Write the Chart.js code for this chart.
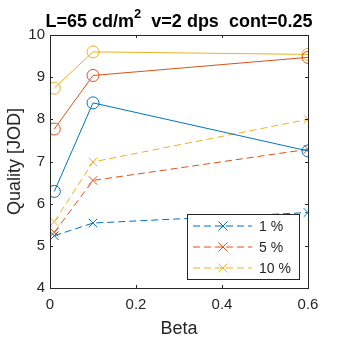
<!DOCTYPE html>
<html>
<head>
<meta charset="utf-8">
<script src="https://cdn.jsdelivr.net/npm/chart.js@4"></script>
<style>
  html, body { margin: 0; padding: 0; background: #fff; }
  #wrap { width: 340px; height: 340px; }
</style>
</head>
<body>
<div id="wrap"><canvas id="chart" width="340" height="340"></canvas></div>
<script>
const betas = [0.01, 0.1, 0.6];
const seriesLabels = ["1 %", "5 %", "10 %"];
const colors = ["#0072BD", "#D95319", "#EDB120"];

// solid lines, circle markers
const circle1 = [6.29, 8.39, 7.25];
const circle5 = [7.77, 9.04, 9.47];
const circle10 = [8.74, 9.60, 9.54];

// dashed lines, x markers (these are in the legend)
const cross1 = [5.24, 5.54, 5.79];
const cross5 = [5.32, 6.55, 7.29];
const cross10 = [5.57, 6.99, 8.00];

const xTicks = [0, 0.2, 0.4, 0.6];
const yTicks = [4, 5, 6, 7, 8, 9, 10];

const titleText = "L=65 cd/m";
const titleSup = "2";
const titleRest = "  v=2 dps  cont=0.25";

const toPoints = vals => vals.map((v, i) => ({ x: betas[i], y: v }));

const datasets = [];
[circle1, circle5, circle10].forEach((vals, i) => {
    datasets.push({
        label: "c" + i,
        data: toPoints(vals),
        borderColor: colors[i],
        backgroundColor: "transparent",
        borderWidth: 1,
        pointStyle: "circle",
        pointRadius: 6,
        pointBorderWidth: 1,
        showInLegend: false
    });
});
[cross1, cross5, cross10].forEach((vals, i) => {
    datasets.push({
        label: seriesLabels[i],
        data: toPoints(vals),
        borderColor: colors[i],
        backgroundColor: "transparent",
        borderWidth: 1,
        borderDash: [7, 4],
        pointStyle: "crossRot",
        pointRadius: 6,
        pointBorderWidth: 1,
        showInLegend: true
    });
});

const fontFam = "'Liberation Sans', Arial, sans-serif";

// MATLAB-like box, inward ticks, title and legend
const matlabAxes = {
    id: "matlabAxes",
    afterDatasetsDraw(chart) {
        const { ctx, chartArea: a, scales } = chart;
        ctx.save();
        ctx.strokeStyle = "#262626";
        ctx.lineWidth = 1;
        ctx.strokeRect(Math.round(a.left) + 0.5, Math.round(a.top) + 0.5,
            Math.round(a.right - a.left), Math.round(a.bottom - a.top));
        const t = 3;
        ctx.beginPath();
        xTicks.forEach(v => {
            const px = Math.round(scales.x.getPixelForValue(v)) + 0.5;
            ctx.moveTo(px, a.bottom); ctx.lineTo(px, a.bottom - t);
            ctx.moveTo(px, a.top); ctx.lineTo(px, a.top + t);
        });
        yTicks.forEach(v => {
            const py = Math.round(scales.y.getPixelForValue(v)) + 0.5;
            ctx.moveTo(a.left, py); ctx.lineTo(a.left + t, py);
            ctx.moveTo(a.right, py); ctx.lineTo(a.right - t, py);
        });
        ctx.stroke();

        // title
        ctx.fillStyle = "#000";
        ctx.textBaseline = "alphabetic";
        ctx.font = "bold 18px " + fontFam;
        const w1 = ctx.measureText(titleText).width;
        const w3 = ctx.measureText(titleRest).width;
        ctx.font = "bold 13px " + fontFam;
        const w2 = ctx.measureText(titleSup).width;
        const total = w1 + w2 + w3;
        let x = (a.left + a.right) / 2 - total / 2;
        const base = 27;
        ctx.textAlign = "left";
        ctx.font = "bold 18px " + fontFam;
        ctx.fillText(titleText, x, base);
        x += w1;
        ctx.font = "bold 13px " + fontFam;
        ctx.fillText(titleSup, x, base - 9);
        x += w2;
        ctx.font = "bold 18px " + fontFam;
        ctx.fillText(titleRest, x, base);

        // legend
        const items = chart.data.datasets.filter(d => d.showInLegend);
        const lx = 187, ly = 214, lw = 112, lh = 65;
        ctx.fillStyle = "#fff";
        ctx.fillRect(lx, ly, lw, lh);
        ctx.strokeStyle = "#262626";
        ctx.strokeRect(lx + 0.5, ly + 0.5, lw, lh);
        ctx.font = "14px " + fontFam;
        ctx.textBaseline = "middle";
        items.forEach((d, i) => {
            const yy = ly + 12 + i * 21;
            ctx.strokeStyle = d.borderColor;
            ctx.lineWidth = 1;
            ctx.setLineDash([7, 4]);
            ctx.beginPath();
            ctx.moveTo(lx + 6, yy); ctx.lineTo(lx + 65, yy);
            ctx.stroke();
            ctx.setLineDash([]);
            const cx = lx + 36, r = 4.5;
            ctx.beginPath();
            ctx.moveTo(cx - r, yy - r); ctx.lineTo(cx + r, yy + r);
            ctx.moveTo(cx - r, yy + r); ctx.lineTo(cx + r, yy - r);
            ctx.stroke();
            ctx.fillStyle = "#262626";
            ctx.fillText(d.label, lx + 72, yy + 1);
        });
        ctx.restore();
    }
};

new Chart(document.getElementById("chart"), {
    type: "line",
    data: { datasets: datasets },
    options: {
        responsive: false,
        animation: false,
        devicePixelRatio: 1,
        layout: { padding: { top: 35, right: 32, left: 0, bottom: 0 } },
        plugins: {
            legend: { display: false },
            title: { display: false },
            tooltip: { enabled: false }
        },
        scales: {
            x: {
                type: "linear",
                min: 0,
                max: 0.6,
                afterBuildTicks: s => { s.ticks = xTicks.map(v => ({ value: v })); },
                afterFit: s => { s.height = 52; },
                grid: { display: false, drawTicks: false },
                border: { display: false },
                ticks: {
                    color: "#262626",
                    font: { size: 15, family: fontFam },
                    padding: 8,
                    maxRotation: 0,
                    callback: v => String(v)
                },
                title: {
                    display: true,
                    text: "Beta",
                    color: "#262626",
                    font: { size: 18, family: fontFam },
                    padding: { top: 0, bottom: 0 }
                }
            },
            y: {
                type: "linear",
                min: 4,
                max: 10,
                afterBuildTicks: s => { s.ticks = yTicks.map(v => ({ value: v })); },
                afterFit: s => { s.width = 50; },
                grid: { display: false, drawTicks: false },
                border: { display: false },
                ticks: {
                    color: "#262626",
                    font: { size: 15, family: fontFam },
                    padding: 5,
                    callback: v => String(v)
                },
                title: {
                    display: true,
                    text: "Quality [JOD]",
                    color: "#262626",
                    font: { size: 18, family: fontFam },
                    padding: { top: 4, bottom: 0 }
                }
            }
        }
    },
    plugins: [matlabAxes]
});
</script>
</body>
</html>
